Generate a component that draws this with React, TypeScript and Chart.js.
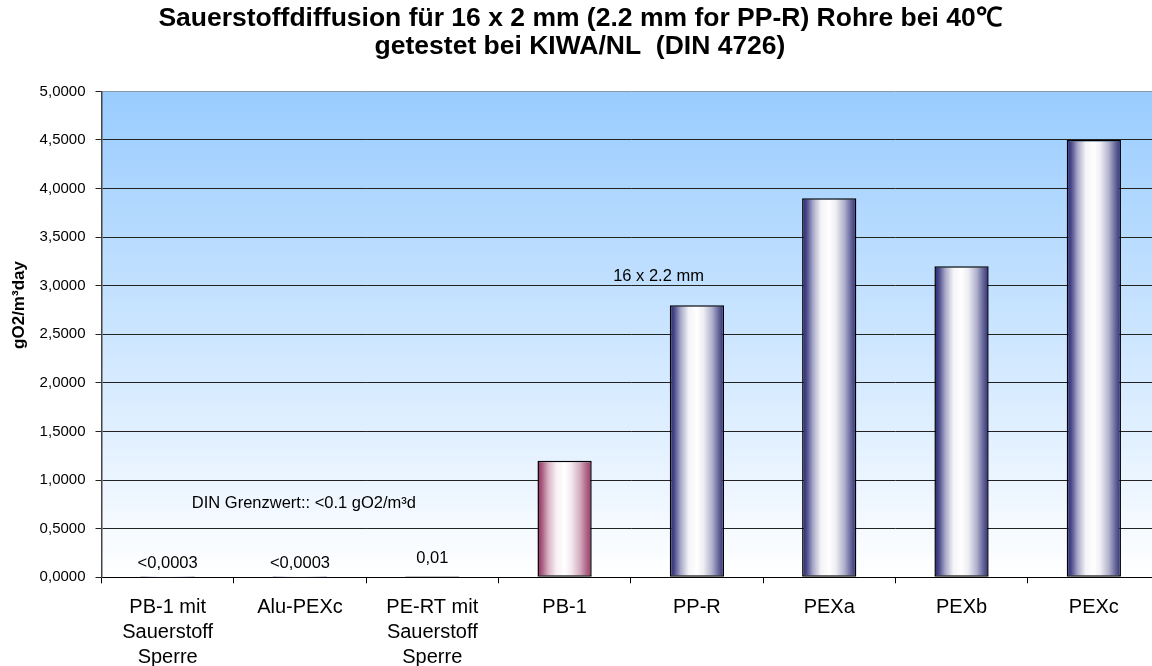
import React, { useEffect, useRef } from 'react';
import { Chart, registerables } from 'chart.js';

Chart.register(...registerables);

const categories: (string | string[])[] = [
  ['PB-1 mit', 'Sauerstoff', 'Sperre'],
  'Alu-PEXc',
  ['PE-RT mit', 'Sauerstoff', 'Sperre'],
  'PB-1',
  'PP-R',
  'PEXa',
  'PEXb',
  'PEXc',
];
const values = [0.0003, 0.0003, 0.01, 1.2, 2.8, 3.9, 3.2, 4.5];
const barLabels = ['<0,0003', '<0,0003', '0,01', '', '', '', '', ''];
const barLabelLevels = [0.145, 0.145, 0.195, 0, 0, 0, 0, 0];
const pinkBars = [false, false, false, true, false, false, false, false];

const noteTexts = ['16 x 2.2 mm', 'DIN Grenzwert:: <0.1 gO2/m³d'];
const noteX = [3.71, 1.03];
const noteY = [3.1, 0.765];

const titleLines = [
  'Sauerstoffdiffusion für 16 x 2 mm (2.2 mm for PP-R) Rohre bei 40℃',
  'getestet bei KIWA/NL  (DIN 4726)',
];
const yAxisTitle = 'gO2/m³day';
const yMin = 0;
const yMax = 5;
const yStep = 0.5;

const FONT = "'Liberation Sans', Arial, sans-serif";

const navyStops: [number, string][] = [
  [0, '#25256a'], [0.08, '#48488a'], [0.2, '#a8a8c8'], [0.35, '#f4f4f8'],
  [0.5, '#ffffff'], [0.62, '#eeeef4'], [0.78, '#b0b0cc'], [0.9, '#66669a'], [1, '#2c2c78'],
];
const pinkStops: [number, string][] = [
  [0, '#8e2f5e'], [0.08, '#a8587e'], [0.2, '#d7b3c5'], [0.35, '#f8f0f4'],
  [0.5, '#ffffff'], [0.62, '#f4eaef'], [0.78, '#d5afc1'], [0.9, '#b06889'], [1, '#963866'],
];

const BAR_PCT = 0.41;

const decorPlugin = {
  id: 'decor',
  beforeDraw(chart: any) {
    const { ctx, chartArea } = chart;
    if (!chartArea) return;
    const { left, top, right, bottom } = chartArea;
    const g = ctx.createLinearGradient(0, top, 0, bottom);
    g.addColorStop(0, '#99ccff');
    g.addColorStop(1, '#ffffff');
    ctx.save();
    ctx.fillStyle = g;
    ctx.fillRect(left, top, right - left, bottom - top);
    ctx.restore();
  },
  afterDraw(chart: any) {
    const { ctx, scales } = chart;
    const xs = scales.x;
    const ys = scales.y;
    ctx.save();
    ctx.fillStyle = '#000';
    ctx.textAlign = 'center';
    ctx.textBaseline = 'middle';
    ctx.font = `bold 26.5px ${FONT}`;
    titleLines.forEach((t, i) => ctx.fillText(t, 580, 19 + i * 28));
    ctx.save();
    ctx.translate(19, 305);
    ctx.rotate(-Math.PI / 2);
    ctx.font = `bold 17px ${FONT}`;
    ctx.fillText(yAxisTitle, 0, 0);
    ctx.restore();
    ctx.font = `16.5px ${FONT}`;
    barLabels.forEach((t, i) => {
      if (!t) return;
      ctx.fillText(t, xs.getPixelForValue(i), ys.getPixelForValue(barLabelLevels[i]));
    });
    noteTexts.forEach((t, i) => {
      ctx.fillText(t, xs.getPixelForValue(noteX[i]), ys.getPixelForValue(noteY[i]));
    });
    ctx.restore();
  },
};

export default function App() {
  const ref = useRef<HTMLCanvasElement>(null);
  useEffect(() => {
    document.body.style.margin = '0';
    document.body.style.overflow = 'hidden';
    const canvas = ref.current!;
    const chart = new Chart(canvas, {
      type: 'bar',
      data: {
        labels: categories,
        datasets: [
          {
            data: values,
            backgroundColor: (c: any) => {
              const ch = c.chart;
              const xs = ch.scales?.x;
              if (!ch.chartArea || !xs || c.dataIndex === undefined) return '#ffffff';
              const cx = xs.getPixelForValue(c.dataIndex);
              const w = (xs.width / categories.length) * BAR_PCT;
              const g = ch.ctx.createLinearGradient(cx - w / 2, 0, cx + w / 2, 0);
              const stops = pinkBars[c.dataIndex] ? pinkStops : navyStops;
              stops.forEach(([o, col]) => g.addColorStop(o, col));
              return g;
            },
            borderColor: '#000000',
            borderWidth: (c: any) => (values[c.dataIndex] < 0.001 ? 0 : 1.5),
            borderSkipped: false,
            barPercentage: BAR_PCT,
            categoryPercentage: 1,
          },
        ],
      },
      options: {
        responsive: false,
        animation: false,
        devicePixelRatio: 1,
        layout: { padding: { top: 91.4, left: 0, right: 0, bottom: 0 } },
        plugins: {
          legend: { display: false },
          tooltip: { enabled: false },
          title: { display: false },
        },
        scales: {
          x: {
            afterFit: (s: any) => { s.height = 88.7; },
            grid: {
              drawOnChartArea: false,
              drawTicks: true,
              tickLength: 6,
              color: '#000',
              offset: true,
            },
            border: { display: true, color: '#000', width: 1 },
            ticks: {
              color: '#000',
              padding: 12,
              maxRotation: 0,
              autoSkip: false,
              font: { family: FONT, size: 20, lineHeight: '25px' as any },
            },
          },
          y: {
            min: yMin,
            max: yMax,
            afterFit: (s: any) => { s.width = 101.5; },
            grid: {
              color: (c: any) => (c.tick && c.tick.value === yMax ? '#8899aa' : '#222222'),
              tickColor: '#222222',
              tickLength: 6,
              lineWidth: 1,
            },
            border: { display: true, color: '#444', width: 1.5 },
            ticks: {
              stepSize: yStep,
              color: '#000',
              padding: 10,
              font: { family: FONT, size: 15 },
              callback: (v: any) => Number(v).toFixed(4).replace('.', ','),
            },
          },
        },
      },
      plugins: [decorPlugin],
    });
    return () => chart.destroy();
  }, []);
  return (
    <div style={{ position: 'fixed', left: 0, top: 0, width: 1160, height: 666 }}>
      <canvas ref={ref} width={1160} height={666} style={{ display: 'block' }} />
    </div>
  );
}
